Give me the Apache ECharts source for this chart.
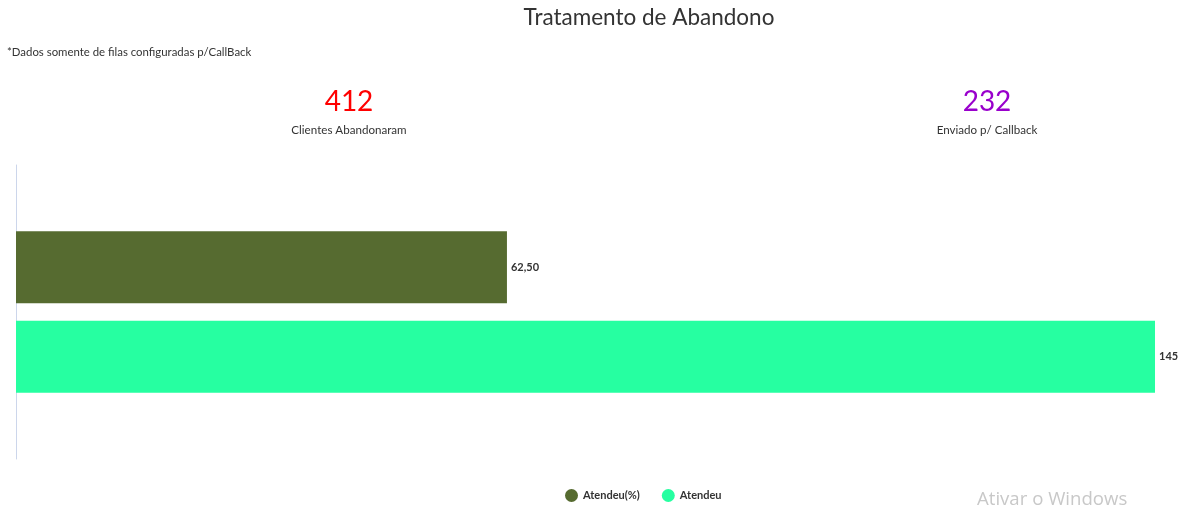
<!DOCTYPE html>
<html>
<head>
<meta charset="utf-8">
<script src="https://cdn.jsdelivr.net/npm/echarts@6/dist/echarts.min.js"></script>
<style>
html,body{margin:0;padding:0;background:#fff;}
#main{width:1198px;height:512px;}
</style>
</head>
<body>
<div id="main"></div>
<script>
var categories = [''];
var seriesNames = ['Atendeu(%)', 'Atendeu'];
var seriesValues = [[62.5], [145]];
var seriesColors = ['#566b30', '#26ffa1'];
var kpiValues = ['412', '232'];
var kpiLabels = ['Clientes Abandonaram', 'Enviado p/ Callback'];

var FONT = 'Lato, "Noto Sans", sans-serif';
var chart = echarts.init(document.getElementById('main'));

function fmt(v){ return Number.isInteger(v) ? String(v) : v.toFixed(2).replace('.', ','); }

var option = {
  animation: false,
  title: [
    {text: 'Tratamento de Abandono', left: 644, top: 1, textAlign: 'center',
     textStyle: {fontFamily: FONT, fontSize: 22.5, fontWeight: 'normal', color: '#333333'}},
    {text: '*Dados somente de filas configuradas p/CallBack', left: 2, top: 42,
     textStyle: {fontFamily: FONT, fontSize: 11.4, fontWeight: 'normal', color: '#333333'}},
    {text: kpiValues[0], left: 344, top: 83, textAlign: 'center',
     textStyle: {fontFamily: FONT, fontSize: 28, fontWeight: 'normal', color: '#ff0000'}},
    {text: kpiLabels[0], left: 344, top: 119, textAlign: 'center',
     textStyle: {fontFamily: FONT, fontSize: 11.6, fontWeight: 'normal', color: '#333333'}},
    {text: kpiValues[1], left: 982, top: 83, textAlign: 'center',
     textStyle: {fontFamily: FONT, fontSize: 28, fontWeight: 'normal', color: '#9900cc'}},
    {text: kpiLabels[1], left: 982, top: 119, textAlign: 'center',
     textStyle: {fontFamily: FONT, fontSize: 11.6, fontWeight: 'normal', color: '#333333'}},
    {text: 'Ativar o Windows', left: 972, top: 485,
     textStyle: {fontFamily: '"Open Sans", sans-serif', fontSize: 18.6, fontWeight: 'normal', color: '#c8c8c8'}}
  ],
  legend: {
    data: seriesNames, top: 484, left: 560, icon: 'circle', itemWidth: 13, itemHeight: 13, itemGap: 22,
    textStyle: {fontFamily: FONT, fontSize: 11, fontWeight: 'bold', color: '#333333'}
  },
  grid: {left: 16, right: 43, top: 165, bottom: 53, containLabel: false},
  xAxis: {type: 'value', min: 0, max: 145, show: false},
  yAxis: {type: 'category', data: categories, inverse: true,
    axisLine: {show: true, lineStyle: {color: '#ccd6eb'}}, axisTick: {show: false}, axisLabel: {show: false}},
  series: seriesNames.map(function(n, i){
    return {
      name: n, type: 'bar', data: seriesValues[i], barWidth: 72, barGap: '24%',
      itemStyle: {color: seriesColors[i]},
      label: {show: true, position: 'right', distance: 4, formatter: function(p){ return fmt(p.value); },
        fontFamily: FONT, fontSize: 11, fontWeight: 'bold', color: '#333333'}
    };
  })
};
chart.setOption(option);
</script>
</body>
</html>
